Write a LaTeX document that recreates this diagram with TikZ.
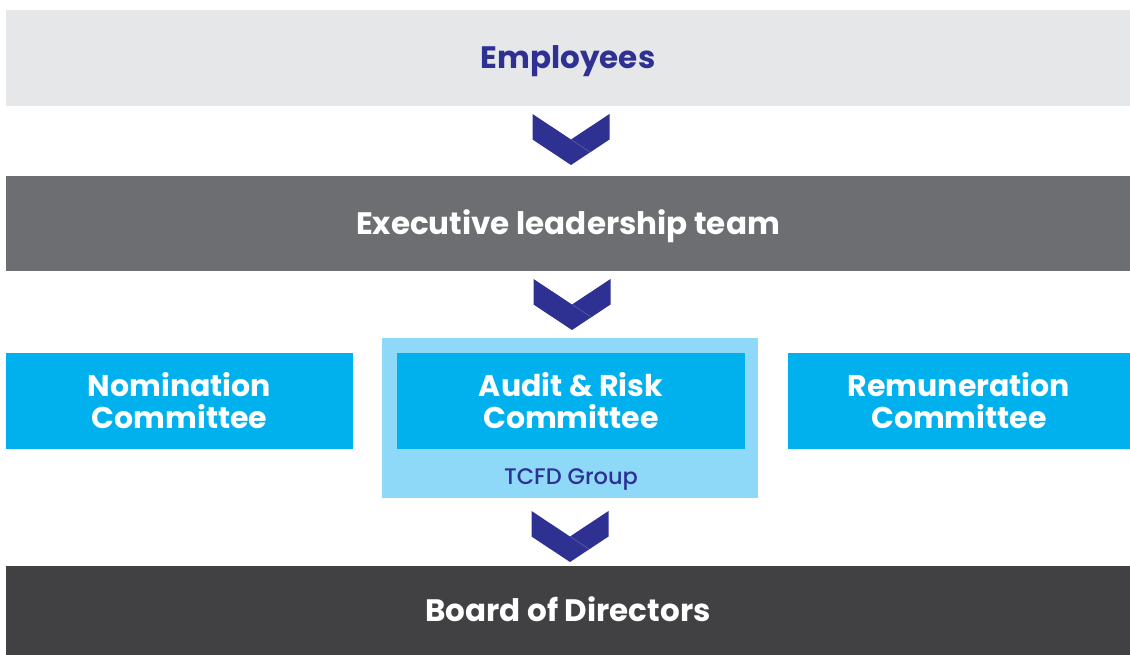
\documentclass[tikz,border=0pt]{standalone}
\usepackage{fontspec}
\setmainfont{Poppins}
\newfontfamily\mediumfont{Poppins Medium}
\usepackage{tikz}
\usetikzlibrary{calc, positioning}

\definecolor{navy}{HTML}{2E3092}
\definecolor{palegrey}{HTML}{E6E7E8}
\definecolor{midgrey}{HTML}{6D6E71}
\definecolor{darkgrey}{HTML}{414042}
\definecolor{cyan}{HTML}{00B1EE}
\definecolor{palecyan}{HTML}{8ED8F8}

\tikzset{
  bar/.style={rectangle, minimum width=1124pt, inner sep=0pt,
    text height=21.5pt, text depth=0pt,
    font=\bfseries\fontsize{31}{33}\selectfont},
  cttee/.style={rectangle, fill=cyan, text=white, minimum height=96pt,
    inner sep=0pt, align=center, font=\bfseries\fontsize{30}{32}\selectfont},
  chevron/.pic={
    \fill [navy] (-38.5,-25.5) -- (0,0) -- (38.5,-25.5) -- (38.5,0)
      -- (0,25.5) -- (-38.5,0) -- cycle;
    \draw [navy!70!white, thin] (0,0) -- (19,12.5);
  }
}

\begin{document}
\begin{tikzpicture}[x=1pt, y=-1pt]
  \useasboundingbox (0,0) rectangle (1130,655);
  \node (emp) at (568,58) [bar, fill=palegrey, text=navy, minimum height=96pt] {Employees};
  \node (exec) at (568,223.5) [bar, fill=midgrey, text=white, minimum height=95pt] {Executive leadership team};
  \node (tcfd) at (570,418) [rectangle, fill=palecyan, minimum width=376pt, minimum height=160pt] {};
  \node (nom) at (179.5,401) [cttee, minimum width=347pt] {Nomination\\Committee};
  \node (audit) at (571,401) [cttee, minimum width=348pt] {Audit \& Risk\\Committee};
  \node (rem) at (959,401) [cttee, minimum width=342pt] {Remuneration\\Committee};
  \node (group) [below=16pt of audit, text=navy, font=\mediumfont\fontsize{22.5}{24}\selectfont] {TCFD Group};
  \node (board) at (568,611) [bar, fill=darkgrey, text=white, minimum height=90pt] {Board of Directors};
  \pic at ($(emp.south)!0.5!(exec.north)+(3,-1.5)$) {chevron};
  \pic at ($(exec.south)!0.5!(tcfd.north)+(3,0)$) {chevron};
  \pic at ($(tcfd.south)!0.5!(board.north)+(1,4.5)$) {chevron};
\end{tikzpicture}
\end{document}
